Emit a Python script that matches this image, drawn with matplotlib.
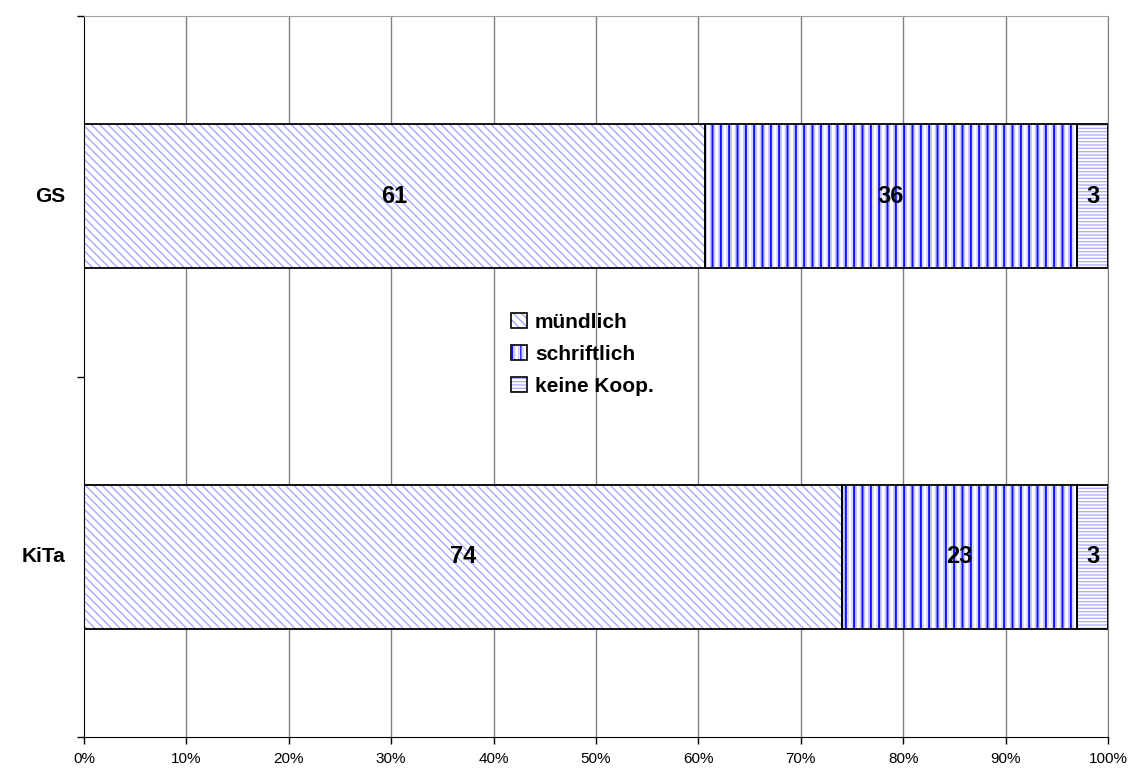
import matplotlib
matplotlib.use('Agg')
import matplotlib.pyplot as plt
from matplotlib.patches import Patch
from matplotlib.legend_handler import HandlerTuple
import numpy as np

plt.rcParams['font.family'] = ['Liberation Sans', 'DejaVu Sans']
plt.rcParams['hatch.linewidth'] = 1.0

categories = ['GS', 'KiTa']
muendlich = [60.6, 74.0]
schriftlich = [36.4, 23.0]
keine = [3.0, 3.0]
series_names = ['mündlich', 'schriftlich', 'keine Koop.']

fig = plt.figure(figsize=(11.31, 7.69), dpi=100)
ax = fig.add_axes([84 / 1131, 32 / 769, 1024 / 1131, 721 / 769])

ypos = np.array([0.5, 1.5])
h = 0.4

# hatch layers: (face, hatch colour, hatch, hatch linewidth)
styles = [
    [('#ffffff', '#a8a8ff', '\\\\\\\\', 1.0)],
    [('#ffffff', '#c8c8ff', '||||', 1.0), ('none', '#1010ff', '||', 1.5)],
    [('#ffffff', '#b0b0ff', '-----', 1.0)],
]
vals = [muendlich, schriftlich, keine]
left = np.zeros(2)
for v, st in zip(vals, styles):
    v = np.array(v)
    for fc, hc, hatch, hlw in st:
        with plt.rc_context({'hatch.linewidth': hlw}):
            ax.barh(ypos, v, h, left=left, color=fc, edgecolor=hc, hatch=hatch,
                    linewidth=0, zorder=2)
    ax.barh(ypos, v, h, left=left, color='none', edgecolor='black',
            linewidth=1.3, zorder=3)
    for y, l, w in zip(ypos, left, v):
        ax.text(l + w / 2, y, f'{w:.0f}', ha='center', va='center',
                fontsize=17, fontweight='bold', zorder=4)
    left += v

ax.set_xlim(0, 100)
ax.set_ylim(2, 0)
ax.set_xticks(np.arange(0, 101, 10))
ax.set_xticklabels([f'{t}%' for t in range(0, 101, 10)], fontsize=11)
ax.set_yticks([0, 1, 2])
ax.set_yticklabels([])
ax.tick_params(axis='both', direction='out', length=5, width=1)
ax.tick_params(axis='x', pad=6)
for x in range(10, 101, 10):
    ax.axvline(x, color='#808080', lw=1, zorder=1)
ax.spines['top'].set_color('#a0a0a0')
ax.spines['right'].set_color('#808080')
for s in ['left', 'bottom']:
    ax.spines[s].set_color('black')

for y, c in zip(ypos, categories):
    ax.annotate(c, xy=(0, y), xycoords=('axes fraction', 'data'),
                xytext=(-19, 0), textcoords='offset pixels',
                ha='right', va='center', fontsize=15, fontweight='bold')

handles = []
for st in styles:
    parts = []
    for fc, hc, hatch, hlw in st:
        with plt.rc_context({'hatch.linewidth': hlw}):
            parts.append(Patch(facecolor=fc, edgecolor=hc, hatch=hatch, linewidth=0))
    parts.append(Patch(facecolor='none', edgecolor='black', linewidth=1.2))
    handles.append(tuple(parts))
leg = ax.legend(handles, series_names, loc='upper left',
                bbox_to_anchor=(0.417, 0.588), frameon=False,
                handler_map={tuple: HandlerTuple(ndivide=1, pad=0)},
                handlelength=0.75, handleheight=0.75, handletextpad=0.4,
                labelspacing=0.62, borderpad=0, borderaxespad=0,
                prop={'size': 15, 'weight': 'bold'})

fig.savefig('out.png', dpi=100)
